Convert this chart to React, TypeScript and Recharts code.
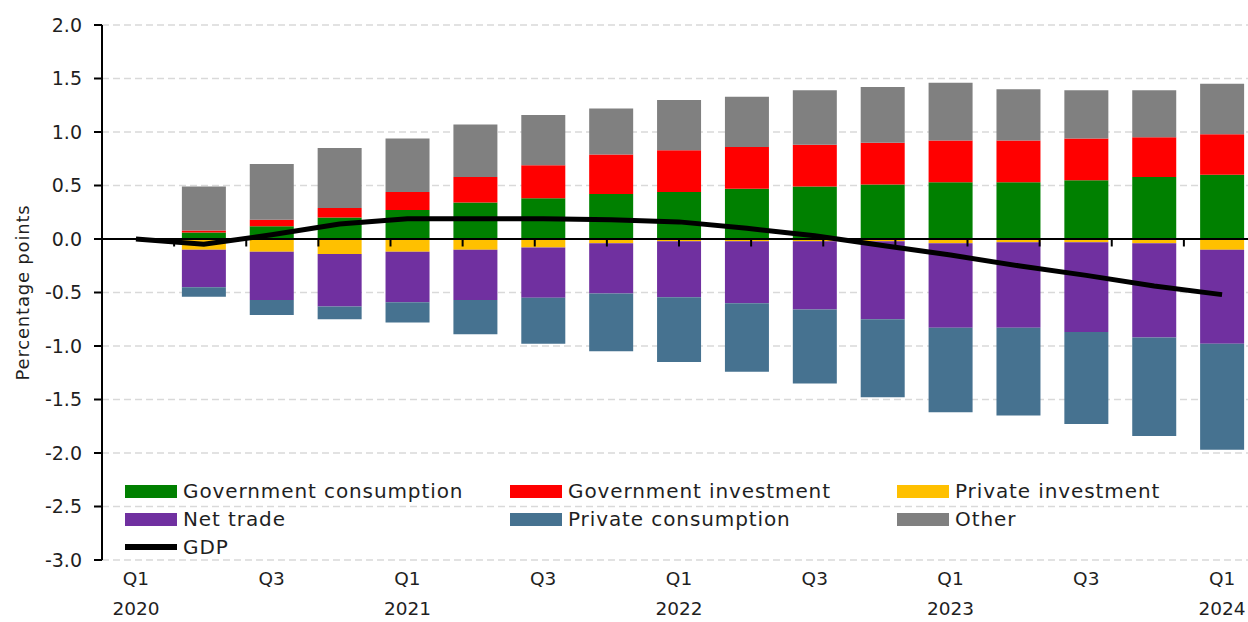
import React from 'react';
import {
  ComposedChart,
  Bar,
  Line,
  XAxis,
  YAxis,
  CartesianGrid,
  ReferenceLine,
  Legend,
} from 'recharts';

const periods = [
  'Q1 2020', 'Q2 2020', 'Q3 2020', 'Q4 2020',
  'Q1 2021', 'Q2 2021', 'Q3 2021', 'Q4 2021',
  'Q1 2022', 'Q2 2022', 'Q3 2022', 'Q4 2022',
  'Q1 2023', 'Q2 2023', 'Q3 2023', 'Q4 2023',
  'Q1 2024',
];

const govConsumption = [null, 0.06, 0.12, 0.2, 0.27, 0.34, 0.38, 0.42, 0.44, 0.47, 0.49, 0.51, 0.53, 0.53, 0.55, 0.58, 0.6];
const govInvestment = [null, 0.02, 0.06, 0.09, 0.17, 0.24, 0.31, 0.37, 0.39, 0.39, 0.39, 0.39, 0.39, 0.39, 0.39, 0.37, 0.38];
const privInvestment = [null, -0.1, -0.12, -0.14, -0.12, -0.1, -0.08, -0.04, -0.02, -0.02, -0.02, -0.02, -0.04, -0.03, -0.03, -0.04, -0.1];
const netTrade = [null, -0.35, -0.45, -0.49, -0.47, -0.47, -0.47, -0.47, -0.525, -0.58, -0.64, -0.73, -0.79, -0.8, -0.84, -0.88, -0.88];
const privConsumption = [null, -0.09, -0.14, -0.12, -0.19, -0.32, -0.43, -0.54, -0.605, -0.64, -0.69, -0.73, -0.79, -0.82, -0.86, -0.92, -0.99];
const other = [null, 0.41, 0.52, 0.56, 0.5, 0.49, 0.47, 0.43, 0.47, 0.47, 0.51, 0.52, 0.54, 0.48, 0.45, 0.44, 0.47];
const gdp = [0, -0.05, 0.04, 0.14, 0.19, 0.19, 0.19, 0.18, 0.16, 0.1, 0.03, -0.06, -0.15, -0.25, -0.34, -0.44, -0.52];

const yTicks = [-3, -2.5, -2, -1.5, -1, -0.5, 0, 0.5, 1, 1.5, 2];

const series = [
  { key: 'govConsumption', name: 'Government consumption', color: '#008000' },
  { key: 'govInvestment', name: 'Government investment', color: '#FF0000' },
  { key: 'privInvestment', name: 'Private investment', color: '#FFC000' },
  { key: 'netTrade', name: 'Net trade', color: '#7030A0' },
  { key: 'privConsumption', name: 'Private consumption', color: '#467290' },
  { key: 'other', name: 'Other', color: '#808080' },
];

const data = periods.map((p, i) => ({
  period: p,
  govConsumption: govConsumption[i],
  govInvestment: govInvestment[i],
  privInvestment: privInvestment[i],
  netTrade: netTrade[i],
  privConsumption: privConsumption[i],
  other: other[i],
  gdp: gdp[i],
}));

const boundaries = periods.map((_, i) => i + 1);

const FONT = '"DejaVu Sans", sans-serif';
const TEXT = '#1f1f1f';

const XTick = (props: any) => {
  const { x, y, payload } = props;
  const [q, yr] = String(payload.value).split(' ');
  return (
    <g transform={`translate(${x},${y})`}>
      <text textAnchor="middle" fontFamily={FONT} fontSize={18.5} fill={TEXT}>
        <tspan x={0} dy={17}>{q}</tspan>
        {q === 'Q1' ? <tspan x={0} dy={30}>{yr}</tspan> : null}
      </text>
    </g>
  );
};

const YLabel = (props: any) => {
  const { viewBox } = props;
  const cx = (viewBox?.x ?? 0) + 22;
  const cy = (viewBox?.y ?? 25) + (viewBox?.height ?? 535) / 2;
  return (
    <text
      x={cx}
      y={cy}
      transform={`rotate(-90, ${cx}, ${cy})`}
      textAnchor="middle"
      dominantBaseline="central"
      fontFamily={FONT}
      fontSize={18}
      letterSpacing={0.8}
      fill={TEXT}
    >
      Percentage points
    </text>
  );
};

const LegendContent = () => {
  const items = [
    ...series.map((s) => ({ name: s.name, color: s.color, line: false })),
    { name: 'GDP', color: '#000000', line: true },
  ];
  return (
    <div
      style={{
        display: 'grid',
        gridTemplateColumns: '385px 387px 300px',
        rowGap: 0,
        fontFamily: FONT,
        fontSize: 20,
        letterSpacing: 0.9,
        color: TEXT,
      }}
    >
      {items.map((it) => (
        <div key={it.name} style={{ display: 'flex', alignItems: 'center', height: 28 }}>
          <span
            style={{
              display: 'inline-block',
              width: 52,
              height: it.line ? 6 : 13,
              background: it.color,
              marginRight: 6,
            }}
          />
          <span style={{ whiteSpace: 'nowrap' }}>{it.name}</span>
        </div>
      ))}
    </div>
  );
};

export default function App() {
  return (
    <div
      style={{
        position: 'fixed',
        left: 0,
        top: 0,
        width: 1248,
        height: 622,
        overflow: 'hidden',
        background: '#fff',
      }}
    >
      <ComposedChart
        width={1260}
        height={622}
        data={data}
        stackOffset="sign"
        margin={{ top: 25, right: 4, bottom: 0, left: 0 }}
        barSize={44}
      >
        <CartesianGrid vertical={false} stroke="#D9D9D9" strokeWidth={1.5} strokeDasharray="7 4" />
        <XAxis
          dataKey="period"
          interval={1}
          axisLine={false}
          tickLine={false}
          height={62}
          tick={<XTick />}
        />
        <XAxis xAxisId="n" type="number" domain={[0, 17]} hide allowDataOverflow />
        <YAxis
          domain={[-3, 2]}
          ticks={yTicks}
          width={102}
          allowDataOverflow
          axisLine={{ stroke: '#000', strokeWidth: 2 }}
          tickLine={{ stroke: '#000', strokeWidth: 2 }}
          tickSize={8}
          tickMargin={12}
          tickFormatter={(v: number) => v.toFixed(1)}
          tick={{ fontFamily: FONT, fontSize: 19, fill: TEXT }}
          label={<YLabel />}
        />
        {series.map((s) => (
          <Bar key={s.key} dataKey={s.key} name={s.name} stackId="a" fill={s.color} isAnimationActive={false} />
        ))}
        <ReferenceLine y={0} stroke="#000" strokeWidth={2} />
        {boundaries.map((b) => (
          <ReferenceLine
            key={b}
            xAxisId="n"
            segment={[{ x: b, y: 0 }, { x: b, y: -0.07 }]}
            stroke="#000"
            strokeWidth={2}
          />
        ))}
        <Line
          dataKey="gdp"
          name="GDP"
          type="linear"
          stroke="#000"
          strokeWidth={5}
          dot={false}
          isAnimationActive={false}
        />
        <Legend
          layout="vertical"
          verticalAlign="middle"
          align="center"
          content={<LegendContent />}
          wrapperStyle={{ left: 125, top: 477, width: 1100, height: 84 }}
        />
      </ComposedChart>
    </div>
  );
}
